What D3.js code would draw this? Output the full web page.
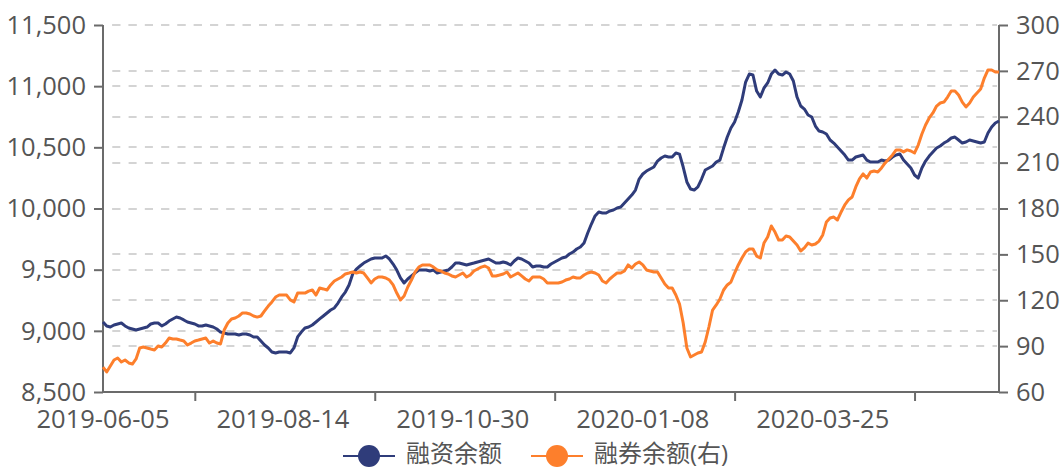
<!DOCTYPE html>
<html lang="zh">
<head>
<meta charset="utf-8" />
<title>融资融券余额</title>
<script src="https://cdn.jsdelivr.net/npm/d3@7"></script>
<style>
    body { margin: 0; background: #fff; }
    svg text { font-family: "Open Sans", "Noto Sans CJK SC", sans-serif; fill: #555; }
</style>
</head>
<body>
<script>
    // trading calendar: weekdays between these dates minus exchange holidays
    var firstDay = "2019-06-05";
    var lastDay = "2020-06-05";
    var holidays = ["2019-06-07", "2019-09-13", "2019-10-01", "2019-10-02", "2019-10-03",
        "2019-10-04", "2019-10-07", "2020-01-01", "2020-01-24", "2020-01-27", "2020-01-28",
        "2020-01-29", "2020-01-30", "2020-01-31", "2020-04-06", "2020-05-01", "2020-05-04",
        "2020-05-05"];

    var seriesNames = ["融资余额", "融券余额(右)"];

    // 融资余额 (left axis)
    var financing = [
        9072, 9040, 9031, 9048, 9056, 9064, 9040, 9023, 9015, 9007,
        9015, 9023, 9031, 9056, 9064, 9064, 9040, 9056, 9080, 9097,
        9113, 9105, 9089, 9072, 9064, 9056, 9040, 9040, 9048, 9040,
        9031, 9015, 8990, 8982, 8974, 8974, 8974, 8966, 8974, 8974,
        8966, 8950, 8950, 8917, 8884, 8860, 8827, 8819, 8827, 8827,
        8827, 8819, 8860, 8950, 8990, 9023, 9031, 9048, 9072, 9097,
        9121, 9146, 9170, 9187, 9227, 9277, 9317, 9375, 9465, 9505,
        9530, 9554, 9571, 9587, 9595, 9595, 9595, 9612, 9587, 9546,
        9497, 9432, 9391, 9424, 9448, 9473, 9497, 9497, 9497, 9489,
        9497, 9473, 9481, 9489, 9497, 9522, 9554, 9554, 9546, 9538,
        9546, 9554, 9563, 9571, 9579, 9587, 9571, 9554, 9554, 9563,
        9554, 9538, 9571, 9595, 9587, 9571, 9554, 9522, 9530, 9530,
        9522, 9522, 9546, 9563, 9579, 9595, 9603, 9628, 9644, 9669,
        9685, 9718, 9800, 9873, 9939, 9971, 9963, 9963, 9980, 9988,
        10004, 10012, 10045, 10078, 10110, 10151, 10241, 10282, 10306, 10323,
        10339, 10388, 10413, 10429, 10421, 10421, 10454, 10445, 10339, 10217,
        10159, 10151, 10176, 10241, 10315, 10331, 10347, 10380, 10396, 10494,
        10584, 10658, 10707, 10789, 10887, 11034, 11099, 11091, 10960, 10911,
        10985, 11026, 11099, 11132, 11099, 11091, 11116, 11099, 11042, 10911,
        10838, 10813, 10764, 10748, 10674, 10633, 10625, 10609, 10560, 10535,
        10503, 10470, 10437, 10396, 10396, 10421, 10429, 10437, 10396, 10380,
        10380, 10380, 10396, 10388, 10396, 10421, 10437, 10445, 10396, 10364,
        10331, 10274, 10249, 10331, 10388, 10429, 10462, 10494, 10511, 10535,
        10552, 10576, 10584, 10560, 10535, 10544, 10560, 10552, 10544, 10535,
        10544, 10617, 10666, 10699, 10715];

    // 融券余额 (right axis)
    var lending = [
        76.3, 73.1, 77.0, 80.9, 82.2, 79.6, 80.9, 79.0, 78.3, 81.6,
        88.8, 89.4, 88.8, 88.1, 87.5, 90.1, 89.4, 92.0, 95.3, 94.7,
        94.7, 94.0, 93.4, 90.7, 92.0, 93.4, 94.0, 94.7, 95.3, 92.0,
        93.4, 92.0, 91.4, 100.5, 105.1, 107.7, 108.4, 109.7, 111.7, 111.7,
        111.0, 109.7, 109.0, 109.7, 113.0, 116.2, 118.9, 122.1, 123.4, 123.4,
        123.4, 120.2, 118.9, 124.7, 124.7, 124.7, 126.0, 126.7, 123.4, 128.0,
        127.4, 126.7, 130.0, 132.6, 133.9, 135.2, 137.2, 137.8, 138.5, 137.8,
        138.5, 137.8, 134.6, 131.3, 133.9, 135.2, 135.2, 134.6, 133.2, 130.0,
        124.7, 120.2, 122.8, 128.7, 133.2, 138.5, 141.7, 143.1, 143.1, 143.1,
        141.7, 139.8, 139.1, 137.8, 137.2, 135.9, 135.2, 136.5, 137.8, 135.2,
        136.5, 139.1, 140.4, 141.7, 142.4, 141.1, 135.9, 135.9, 136.5, 137.2,
        138.5, 135.2, 136.5, 137.8, 135.9, 133.9, 132.6, 135.2, 135.2, 135.2,
        133.9, 131.3, 131.3, 131.3, 131.3, 131.9, 133.2, 133.9, 135.2, 134.6,
        134.6, 136.5, 137.8, 138.5, 137.8, 136.5, 132.6, 131.3, 133.9, 135.9,
        137.8, 137.8, 139.1, 143.1, 141.1, 143.7, 145.0, 143.1, 139.8, 139.1,
        138.5, 138.5, 134.6, 130.6, 128.0, 128.0, 123.4, 117.5, 105.1, 88.8,
        82.9, 84.2, 85.5, 86.2, 92.7, 102.5, 113.6, 116.9, 120.8, 126.7,
        130.0, 131.9, 137.8, 143.1, 147.6, 151.6, 153.5, 153.5, 148.9, 147.6,
        157.4, 161.4, 168.6, 164.6, 159.4, 159.4, 162.0, 161.4, 158.7, 156.1,
        152.2, 154.2, 157.4, 156.1, 156.8, 158.7, 162.7, 171.2, 173.8, 174.4,
        172.5, 177.7, 182.3, 185.6, 187.5, 194.1, 199.3, 202.6, 199.9, 203.9,
        204.5, 203.9, 206.5, 209.8, 212.4, 215.0, 218.3, 218.3, 217.0, 218.3,
        217.6, 216.3, 221.5, 228.7, 234.6, 239.2, 242.5, 247.0, 249.0, 249.6,
        252.9, 256.8, 256.8, 254.2, 249.6, 246.4, 249.0, 252.9, 255.5, 258.1,
        265.3, 270.6, 270.6, 269.3, 269.3];

    var xLabels = ["2019-06-05", "2019-08-14", "2019-10-30", "2020-01-08", "2020-03-25"];
    var xTickDates = ["2019-07-11", "2019-09-19", "2019-12-04", "2020-02-20", "2020-04-30"];
    var leftTicks = [8500, 9000, 9500, 10000, 10500, 11000, 11500];
    var rightTicks = [60, 90, 120, 150, 180, 210, 240, 270, 300];

    var w = 1062;
    var h = 470;
    var plot = { left: 103, right: 999, top: 25, bottom: 392 };
    var navy = "#2f3c7a", orange = "#fd7f2c", axisColor = "#6b6b6b";
    var numFont = "25.5px";

    var parse = d3.utcParse("%Y-%m-%d");
    var fmt = d3.utcFormat("%Y-%m-%d");
    var days = d3.utcDay.range(parse(firstDay), d3.utcDay.offset(parse(lastDay), 1))
        .filter(function (d) {
            var wd = d.getUTCDay();
            return wd !== 0 && wd !== 6 && holidays.indexOf(fmt(d)) < 0;
        })
        .map(fmt);

    var svg = d3.select("body")
        .append("svg")
        .attr("width", w)
        .attr("height", h);

    var xScale = d3.scalePoint()
        .domain(days)
        .range([plot.left, plot.right]);

    var yLeft = d3.scaleLinear()
        .domain([8500, 11500])
        .range([plot.bottom, plot.top]);

    var yRight = d3.scaleLinear()
        .domain([60, 300])
        .range([plot.bottom, plot.top]);

    // dashed split lines of both axes
    var gridYs = leftTicks.slice(1).map(yLeft).concat(rightTicks.slice(1).map(yRight));
    svg.append("g")
        .selectAll("line")
        .data(gridYs)
        .enter()
        .append("line")
        .attr("x1", plot.left + 2)
        .attr("x2", plot.right - 2)
        .attr("y1", function (d) { return Math.round(d); })
        .attr("y2", function (d) { return Math.round(d); })
        .attr("stroke", "#d4d4d4")
        .attr("stroke-width", 2)
        .attr("stroke-dasharray", "8,8.3")
        .attr("stroke-dashoffset", 9);

    // axes
    var axisLeft = d3.axisLeft(yLeft)
        .tickValues(leftTicks)
        .tickFormat(d3.format(","))
        .tickSize(9)
        .tickPadding(8);

    var axisRight = d3.axisRight(yRight)
        .tickValues(rightTicks)
        .tickSize(9)
        .tickPadding(8);

    var gl = svg.append("g")
        .attr("transform", "translate(" + plot.left + ",0)")
        .call(axisLeft);

    var gr = svg.append("g")
        .attr("transform", "translate(" + plot.right + ",0)")
        .call(axisRight);

    var xAxis = d3.axisBottom(xScale)
        .tickValues(xTickDates)
        .tickSize(9)
        .tickFormat("");

    var gx = svg.append("g")
        .attr("transform", "translate(0," + plot.bottom + ")")
        .call(xAxis);

    [gl, gr, gx].forEach(function (g) {
        g.select(".domain").attr("stroke", axisColor).attr("stroke-width", 2)
            .attr("d", g === gx ? "M" + plot.left + ",0H" + plot.right
                : "M0," + plot.bottom + "V" + plot.top);
        g.selectAll(".tick line").attr("stroke", axisColor).attr("stroke-width", 2);
        g.selectAll(".tick text").attr("font-size", numFont).attr("fill", "#555");
    });

    svg.append("g")
        .selectAll("text")
        .data(xLabels)
        .enter()
        .append("text")
        .attr("x", function (d) { return xScale(d); })
        .attr("y", plot.bottom + 36)
        .attr("text-anchor", "middle")
        .attr("font-size", numFont)
        .text(function (d) { return d; });

    // series
    var lineLeft = d3.line()
        .x(function (d, i) { return xScale(days[i]); })
        .y(function (d) { return yLeft(d); });

    var lineRight = d3.line()
        .x(function (d, i) { return xScale(days[i]); })
        .y(function (d) { return yRight(d); });

    svg.append("path")
        .datum(financing)
        .attr("d", lineLeft)
        .attr("fill", "none")
        .attr("stroke", navy)
        .attr("stroke-width", 3)
        .attr("stroke-linejoin", "round");

    svg.append("path")
        .datum(lending)
        .attr("d", lineRight)
        .attr("fill", "none")
        .attr("stroke", orange)
        .attr("stroke-width", 3)
        .attr("stroke-linejoin", "round");

    // legend
    var legendX = [343, 531];
    var legend = svg.append("g")
        .selectAll("g")
        .data(seriesNames)
        .enter()
        .append("g")
        .attr("transform", function (d, i) { return "translate(" + legendX[i] + ",456)"; });

    legend.append("line")
        .attr("x1", 0)
        .attr("x2", 52)
        .attr("stroke", function (d, i) { return i ? orange : navy; })
        .attr("stroke-width", 2);

    legend.append("circle")
        .attr("cx", 26)
        .attr("r", 11)
        .attr("fill", function (d, i) { return i ? orange : navy; });

    legend.append("text")
        .attr("x", 63)
        .attr("y", -2)
        .attr("dy", "0.34em")
        .attr("font-size", "24px")
        .text(function (d) { return d; });
</script>
</body>
</html>
